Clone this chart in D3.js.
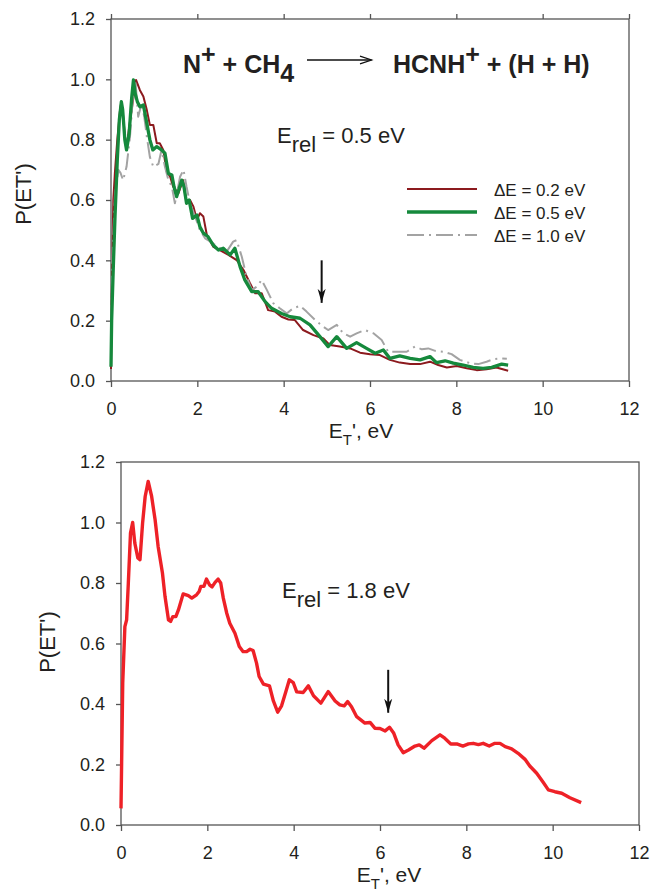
<!DOCTYPE html>
<html>
<head>
<meta charset="utf-8">
<script src="https://cdn.jsdelivr.net/npm/d3@7"></script>
<style>
  html, body { margin: 0; padding: 0; background: #fff; }
  svg { display: block; font-family: "Liberation Sans", Arial, Helvetica, sans-serif; }
</style>
</head>
<body>
<svg id="chart" width="652" height="892"></svg>
<script>
// Axis ticks shared by both panels
const xTicks = [0, 2, 4, 6, 8, 10, 12];
const yTicks = [0, 0.2, 0.4, 0.6, 0.8, 1.0, 1.2];

// Upper panel, E_rel = 0.5 eV: P(E_T') for three energy resolutions, [E_T', P]
const dE02 = [[0,0.04],[0.02,0.3],[0.053,0.6],[0.09,0.69],[0.146,0.8],[0.21,0.9],[0.24,0.925],[0.28,0.88],[0.33,0.8],[0.37,0.785],[0.42,0.84],[0.48,0.9],[0.53,0.95],[0.58,0.998],[0.67,0.964],[0.75,0.943],[0.83,0.898],[0.9,0.849],[0.98,0.849],[1.06,0.788],[1.13,0.788],[1.21,0.766],[1.29,0.694],[1.37,0.677],[1.44,0.644],[1.56,0.622],[1.67,0.666],[1.75,0.589],[1.83,0.6],[1.91,0.578],[1.99,0.534],[2.06,0.556],[2.14,0.545],[2.22,0.484],[2.37,0.445],[2.52,0.434],[2.72,0.418],[2.91,0.401],[3.07,0.368],[3.22,0.324],[3.34,0.291],[3.49,0.291],[3.64,0.235],[3.8,0.23],[3.95,0.213],[4.11,0.204],[4.26,0.202],[4.45,0.169],[4.69,0.152],[4.92,0.141],[5.07,0.119],[5.3,0.114],[5.54,0.108],[5.77,0.094],[6.0,0.089],[6.23,0.086],[6.46,0.07],[6.69,0.061],[6.93,0.056],[7.16,0.056],[7.39,0.064],[7.58,0.053],[7.78,0.045],[8.01,0.05],[8.24,0.042],[8.47,0.036],[8.7,0.039],[8.93,0.045],[9.2,0.034]];

const dE05 = [[0,0.047],[0.015,0.2],[0.054,0.38],[0.093,0.545],[0.146,0.733],[0.193,0.866],[0.24,0.926],[0.27,0.9],[0.32,0.8],[0.36,0.766],[0.42,0.82],[0.48,0.94],[0.52,0.998],[0.56,0.953],[0.61,0.926],[0.67,0.909],[0.75,0.915],[0.83,0.854],[0.9,0.8],[0.97,0.766],[1.06,0.777],[1.17,0.766],[1.25,0.755],[1.33,0.688],[1.41,0.683],[1.46,0.644],[1.52,0.611],[1.64,0.666],[1.69,0.644],[1.75,0.589],[1.81,0.6],[1.89,0.539],[1.99,0.55],[2.06,0.511],[2.14,0.49],[2.25,0.478],[2.37,0.45],[2.49,0.434],[2.6,0.44],[2.76,0.418],[2.87,0.44],[2.99,0.379],[3.1,0.335],[3.26,0.296],[3.41,0.296],[3.57,0.263],[3.72,0.241],[3.95,0.224],[4.15,0.213],[4.38,0.208],[4.61,0.186],[4.84,0.147],[5.03,0.114],[5.23,0.147],[5.46,0.108],[5.69,0.127],[5.92,0.108],[6.12,0.092],[6.31,0.103],[6.46,0.075],[6.69,0.083],[6.93,0.075],[7.16,0.07],[7.39,0.081],[7.54,0.061],[7.74,0.067],[7.93,0.059],[8.16,0.053],[8.39,0.045],[8.62,0.042],[8.82,0.045],[9.05,0.056],[9.2,0.053]];

const dE10 = [[0,0.1],[0.03,0.4],[0.09,0.61],[0.17,0.7],[0.22,0.69],[0.28,0.666],[0.36,0.71],[0.44,0.81],[0.52,0.964],[0.57,0.987],[0.63,0.876],[0.71,0.92],[0.77,0.876],[0.83,0.81],[0.9,0.743],[0.98,0.71],[1.1,0.72],[1.17,0.766],[1.25,0.71],[1.33,0.666],[1.41,0.644],[1.48,0.589],[1.6,0.677],[1.68,0.7],[1.75,0.644],[1.83,0.589],[1.95,0.545],[2.06,0.5],[2.18,0.473],[2.37,0.456],[2.52,0.44],[2.68,0.429],[2.83,0.462],[2.91,0.467],[3.03,0.412],[3.14,0.346],[3.26,0.302],[3.38,0.313],[3.49,0.335],[3.61,0.302],[3.76,0.258],[3.91,0.241],[4.07,0.224],[4.22,0.241],[4.38,0.249],[4.53,0.23],[4.73,0.202],[4.92,0.18],[5.03,0.169],[5.23,0.186],[5.38,0.158],[5.54,0.147],[5.69,0.158],[5.88,0.169],[6.08,0.158],[6.27,0.136],[6.42,0.097],[6.62,0.097],[6.85,0.097],[7.04,0.114],[7.2,0.105],[7.35,0.108],[7.51,0.1],[7.7,0.097],[7.89,0.089],[8.08,0.07],[8.32,0.059],[8.51,0.056],[8.7,0.064],[8.86,0.072],[9.05,0.075],[9.17,0.074]];

// Lower panel, E_rel = 1.8 eV
const erel18 = [[0,0.055],[0.04,0.469],[0.09,0.656],[0.13,0.678],[0.17,0.8],[0.22,0.965],[0.27,1.0],[0.32,0.932],[0.39,0.883],[0.44,0.877],[0.5,0.998],[0.56,1.086],[0.63,1.136],[0.71,1.086],[0.79,1.009],[0.86,0.921],[0.96,0.833],[1.02,0.755],[1.1,0.678],[1.15,0.673],[1.2,0.689],[1.27,0.689],[1.33,0.711],[1.44,0.764],[1.56,0.758],[1.64,0.75],[1.75,0.761],[1.81,0.772],[1.85,0.789],[1.92,0.789],[1.98,0.813],[2.05,0.794],[2.11,0.787],[2.18,0.802],[2.25,0.813],[2.31,0.8],[2.37,0.75],[2.45,0.7],[2.52,0.667],[2.64,0.634],[2.74,0.59],[2.83,0.573],[2.91,0.573],[2.99,0.581],[3.06,0.577],[3.14,0.535],[3.2,0.491],[3.3,0.466],[3.44,0.46],[3.53,0.41],[3.63,0.373],[3.72,0.394],[3.82,0.441],[3.9,0.48],[3.99,0.471],[4.07,0.44],[4.22,0.438],[4.34,0.46],[4.46,0.427],[4.63,0.403],[4.8,0.441],[4.96,0.41],[5.07,0.397],[5.17,0.394],[5.25,0.408],[5.34,0.391],[5.46,0.358],[5.65,0.337],[5.77,0.339],[5.88,0.32],[6.0,0.319],[6.12,0.311],[6.22,0.323],[6.32,0.303],[6.42,0.265],[6.54,0.239],[6.66,0.248],[6.81,0.261],[6.91,0.265],[7.02,0.254],[7.2,0.279],[7.39,0.298],[7.5,0.287],[7.64,0.268],[7.78,0.268],[7.92,0.261],[8.05,0.268],[8.16,0.27],[8.28,0.266],[8.39,0.27],[8.53,0.261],[8.66,0.27],[8.78,0.27],[8.9,0.259],[9.05,0.252],[9.2,0.237],[9.36,0.217],[9.47,0.195],[9.63,0.171],[9.78,0.141],[9.9,0.116],[10.05,0.11],[10.21,0.105],[10.4,0.09],[10.66,0.074]];

// Legend entries for the upper panel
const legendLabels = ["\u0394E = 0.2 eV", "\u0394E = 0.5 eV", "\u0394E = 1.0 eV"];

// Vertical arrows marking thresholds: [E_T', top P, bottom P]
const arrowTop = [4.88, 0.40, 0.259];
const arrowBottom = [6.19, 0.513, 0.371];

const svg = d3.select("#chart");
const AX = "#555";
const TXT = "#231f20";

const defs = svg.append("defs");
defs.append("marker")
  .attr("id", "head").attr("viewBox", "0 0 10 14")
  .attr("refX", 14).attr("refY", 5)
  .attr("markerUnits", "userSpaceOnUse")
  .attr("markerWidth", 14).attr("markerHeight", 10)
  .attr("orient", "auto")
  .attr("viewBox", "0 0 14 10")
  .append("path").attr("d", "M0,1 L14,5 L0,9 L4,5 Z").attr("fill", "#111");

function panel(cfg) {
  const g = svg.append("g");
  const x = d3.scaleLinear().domain([0, 12]).range([cfg.left, cfg.right]);
  const y = d3.scaleLinear().domain([0, 1.2]).range([cfg.bottom, cfg.top]);

  // frame
  g.append("rect")
    .attr("x", cfg.left).attr("y", cfg.top)
    .attr("width", cfg.right - cfg.left).attr("height", cfg.bottom - cfg.top)
    .attr("fill", "none").attr("stroke", AX).attr("stroke-width", 1.3);

  const xa = g.append("g").attr("transform", `translate(0,${cfg.bottom})`)
    .call(d3.axisBottom(x).tickValues(xTicks).tickFormat(d3.format("d"))
      .tickSize(6).tickPadding(15));
  const ya = g.append("g").attr("transform", `translate(${cfg.left},0)`)
    .call(d3.axisLeft(y).tickValues(yTicks).tickFormat(d3.format(".1f"))
      .tickSize(5).tickPadding(11));
  const axes = [xa, ya];
  if (cfg.topTicks) {
    axes.push(g.append("g").attr("transform", `translate(0,${cfg.top})`)
      .call(d3.axisTop(x).tickValues(xTicks).tickFormat("").tickSize(5)));
  }
  axes.forEach(a => {
    a.select(".domain").remove();
    a.selectAll(".tick line").attr("stroke", AX).attr("stroke-width", 1.3);
    a.selectAll(".tick text").attr("fill", TXT)
      .style("font-size", "18px").style("font-family", "'Liberation Sans', Arial, sans-serif");
  });

  // axis titles
  const xt = g.append("text")
    .attr("x", cfg.xTitleX).attr("y", cfg.bottom + 57)
    .attr("text-anchor", "middle").attr("fill", TXT).style("font-size", "21px");
  xt.append("tspan").text("E");
  xt.append("tspan").attr("dy", 7).style("font-size", "15px").text("T");
  xt.append("tspan").attr("dy", -7).text("', eV");

  g.append("text")
    .attr("transform", `translate(${cfg.yTitleX},${cfg.yTitleY}) rotate(-90)`)
    .attr("text-anchor", "middle").attr("fill", TXT).style("font-size", "22px")
    .text("P(ET')");

  // E_rel label
  const el = g.append("text")
    .attr("x", cfg.erelX).attr("y", cfg.erelY)
    .attr("fill", TXT).style("font-size", "22px");
  el.append("tspan").text("E");
  el.append("tspan").attr("dy", 9).text("rel");
  el.append("tspan").attr("dy", -9).text(" = " + cfg.erel);

  // data curves
  const line = d3.line().x(d => x(d[0])).y(d => y(d[1]));
  cfg.series.forEach(s => {
    g.append("path").datum(s.data)
      .attr("d", line)
      .attr("fill", "none")
      .attr("stroke", s.color)
      .attr("stroke-width", s.width)
      .attr("stroke-linejoin", "round")
      .attr("stroke-dasharray", s.dash || null);
  });

  // threshold arrow
  const a = cfg.arrow;
  g.append("line")
    .attr("x1", x(a[0])).attr("x2", x(a[0]))
    .attr("y1", y(a[1])).attr("y2", y(a[2]))
    .attr("stroke", "#111").attr("stroke-width", 2)
    .attr("marker-end", "url(#head)");

  return { g, x, y };
}

const upperPanel = panel({
  left: 111, right: 629, top: 19, bottom: 381, topTicks: true,
  xTitleX: 361, yTitleX: 31, yTitleY: 194,
  erelX: 277, erelY: 143, erel: "0.5 eV",
  arrow: arrowTop,
  series: [
    { data: dE02, color: "#8c1a1e", width: 2 },
    { data: dE10, color: "#a3a3a3", width: 2, dash: "17,5,2,5" },
    { data: dE05, color: "#15893c", width: 3.3 }
  ]
});

panel({
  left: 121, right: 639, top: 462, bottom: 825, topTicks: false,
  xTitleX: 389, yTitleX: 55, yTitleY: 642,
  erelX: 282, erelY: 598, erel: "1.8 eV",
  arrow: arrowBottom,
  series: [{ data: erel18, color: "#ee2127", width: 3.4 }]
});

// Reaction title in the upper panel
const title = upperPanel.g.append("g").attr("fill", "#231f20")
  .style("font-size", "25px").style("font-weight", "bold");
const t1 = title.append("text").attr("x", 183).attr("y", 73);
t1.append("tspan").text("N");
t1.append("tspan").attr("dy", -10).text("+");
t1.append("tspan").attr("dy", 10).text(" + CH");
t1.append("tspan").attr("dy", 9).text("4");
const t2 = title.append("text").attr("x", 393).attr("y", 73);
t2.append("tspan").text("HCNH");
t2.append("tspan").attr("dy", -10).text("+");
t2.append("tspan").attr("dy", 10).text(" + (H + H)");

const arr = upperPanel.g.append("g").attr("stroke", "#111").attr("stroke-width", 1.3).attr("fill", "none");
arr.append("line").attr("x1", 307).attr("x2", 371.5).attr("y1", 60).attr("y2", 60);
arr.append("path").attr("d", "M360,56.2 L371.5,60 L360,63.8");

// Legend
const legendSeries = [
  { color: "#8c1a1e", width: 2 },
  { color: "#15893c", width: 3.3 },
  { color: "#a3a3a3", width: 2, dash: "17,5,2,5" }
];
const leg = upperPanel.g.append("g");
legendLabels.forEach((lab, i) => {
  const yy = 189 + i * 23;
  const s = legendSeries[i];
  leg.append("line").attr("x1", 407).attr("x2", 477).attr("y1", yy).attr("y2", yy)
    .attr("stroke", s.color).attr("stroke-width", s.width)
    .attr("stroke-dasharray", s.dash || null);
  leg.append("text").attr("x", 494).attr("y", yy + 6.5)
    .attr("fill", TXT).style("font-size", "17px").text(lab);
});
</script>
</body>
</html>
